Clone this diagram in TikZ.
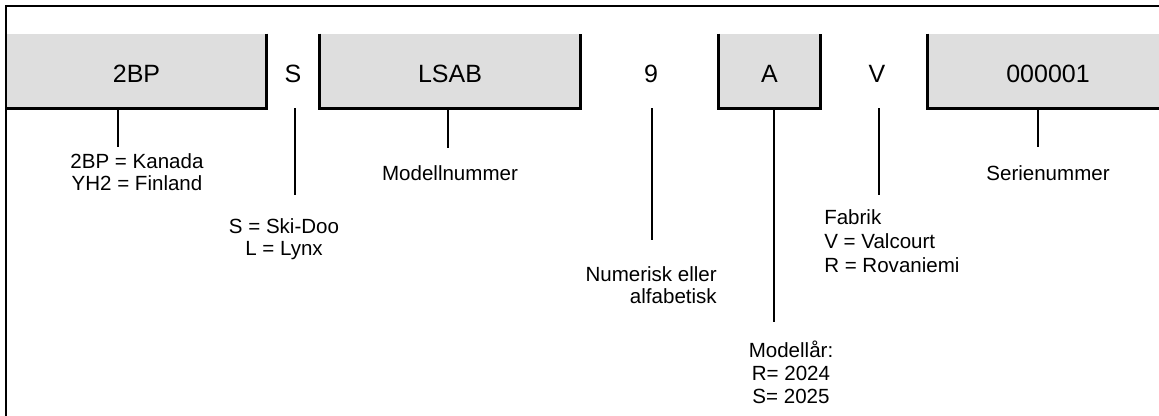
\documentclass[tikz,border=0pt]{standalone}
\usepackage{fontspec}
\setmainfont{Liberation Sans}
\definecolor{boxgray}{RGB}{222,222,222}
\begin{document}
\begin{tikzpicture}[x=0.75pt,y=-0.75pt,
  frameline/.style={line width=2.1pt},
  border/.style={line width=2.2pt},
  conn/.style={line width=2.1pt},
  codefont/.style={font=\fontsize{18.75}{22}\selectfont},
  codebox/.style={fill=boxgray, draw=none, inner sep=0pt, codefont,
    text height=18pt, text depth=0pt, minimum height=55.5pt},
  code/.style={inner sep=0pt, codefont, text height=18pt, text depth=0pt},
  lab/.style={inner sep=0pt, font=\fontsize{15.4}{18}\selectfont, anchor=base},
  labr/.style={lab, anchor=base east},
  labl/.style={lab, anchor=base west}]
\useasboundingbox (0,0) rectangle (1159,416);

% frame
\draw[frameline] (6,420) -- (6,6) -- (1165,6);

% code boxes and characters
\node[codebox, minimum width=194.25pt] (b1) at (136.5,71) {2BP};
\node[code] (cS) at (293,71) {S};
\node[codebox, minimum width=195pt] (b2) at (450,71) {LSAB};
\node[code] (c9) at (651,71) {9};
\node[codebox, minimum width=75.75pt] (b3) at (769.5,71) {A};
\node[code] (cV) at (877,71) {V};
\node[codebox, minimum width=180pt] (b4) at (1048,71) {000001};

% box borders
\draw[border] (b1.north east) -- (b1.south east) -- (b1.south west);
\draw[border] (b2.north west) -- (b2.south west) -- (b2.south east) -- (b2.north east);
\draw[border] (b3.north west) -- (b3.south west) -- (b3.south east) -- (b3.north east);
\draw[border] (b4.north west) -- (b4.south west) -- (b4.south east) -- (b4.north east);

% connector ends
\coordinate (e1) at (118,147);
\coordinate (eS) at (295,195);
\coordinate (e2) at (448,148);
\coordinate (e9) at (652,240);
\coordinate (eA) at (774,322);
\coordinate (eV) at (879,195);
\coordinate (e4) at (1038,147);

\draw[conn] (b1.south -| e1) -- (e1);
\draw[conn] (eS |- b1.south) -- (eS);
\draw[conn] (b2.south -| e2) -- (e2);
\draw[conn] (e9 |- b2.south) -- (e9);
\draw[conn] (b3.south -| eA) -- (eA);
\draw[conn] (eV |- b3.south) -- (eV);
\draw[conn] (b4.south -| e4) -- (e4);

% labels
\node[lab] (l1a) at (137,169) {2BP = Kanada};
\node[lab] (l1b) at (137,191) {YH2 = Finland};
\node[lab] (lSa) at (284,234) {S = Ski-Doo};
\node[lab] (lSb) at (284,256) {L = Lynx};
\node[lab] (l2) at (450,181) {Modellnummer};
\node[labr] (l9a) at (717,282) {Numerisk eller};
\node[labr] (l9b) at (717,304) {alfabetisk};
\node[lab] (lAa) at (791,357) {Modellår:};
\node[lab] (lAb) at (791,380) {R= 2024};
\node[lab] (lAc) at (791,403) {S= 2025};
\node[labl] (lVa) at (824,225) {Fabrik};
\node[labl] (lVb) at (824,249) {V = Valcourt};
\node[labl] (lVc) at (824,273) {R = Rovaniemi};
\node[lab] (l4) at (1048,181) {Serienummer};
\end{tikzpicture}
\end{document}
